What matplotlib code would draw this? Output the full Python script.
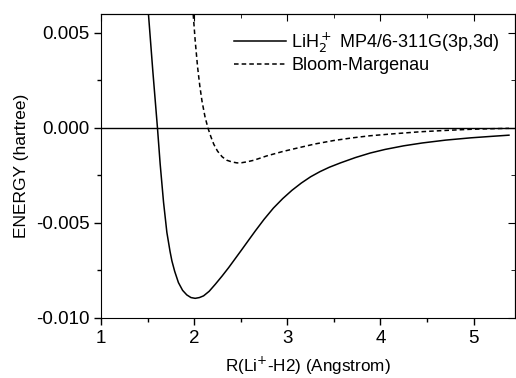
import matplotlib
matplotlib.use('Agg')
import matplotlib.pyplot as plt
from matplotlib.ticker import MultipleLocator

plt.rcParams['font.family'] = ['Liberation Sans', 'DejaVu Sans']

# LiH2+ MP4/6-311G(3p,3d)
r_mp4 = [1.45, 1.505, 1.555, 1.605, 1.634, 1.670, 1.706, 1.74, 1.76, 1.79, 1.83, 1.875,
         1.92, 1.965, 2.01, 2.055, 2.10, 2.16, 2.226, 2.30, 2.37, 2.44, 2.513, 2.585,
         2.656, 2.75, 2.85, 2.95, 3.05, 3.15, 3.25, 3.35, 3.45, 3.57, 3.73, 3.89, 4.05,
         4.25, 4.45, 4.70, 4.97, 5.20, 5.38]
e_mp4 = [0.0115, 0.0062, 0.0030, 0.0, -0.0019, -0.0039, -0.0055, -0.0065, -0.0070,
         -0.00755, -0.00814, -0.00855, -0.00879, -0.00893, -0.00897, -0.00893, -0.00884,
         -0.00860, -0.00823, -0.00779, -0.00735, -0.00688, -0.00639, -0.0059, -0.00542,
         -0.00481, -0.00422, -0.00372, -0.00328, -0.00290, -0.00257, -0.00230, -0.00207,
         -0.00184, -0.00156, -0.00132, -0.00113, -0.00094, -0.00079, -0.00064, -0.00052,
         -0.00044, -0.00038]

# Bloom-Margenau
r_bm = [1.97, 1.99, 2.01, 2.036, 2.06, 2.083, 2.115, 2.147, 2.18, 2.21, 2.25, 2.30, 2.35,
        2.405, 2.46, 2.51, 2.57, 2.64, 2.78, 2.95, 3.14, 3.30, 3.50, 3.70, 3.89, 4.16,
        4.43, 4.70, 4.97, 5.20, 5.38]
e_bm = [0.0075, 0.0059, 0.0046, 0.0032, 0.0022, 0.00142, 0.0006, 0.0, -0.00048, -0.00086,
        -0.00122, -0.00152, -0.0017, -0.00179, -0.00184, -0.00183, -0.00178, -0.0017,
        -0.00147, -0.00124, -0.00102, -0.00084, -0.00066, -0.00052, -0.00041, -0.0003,
        -0.0002, -0.00013, -0.00007, -0.00004, -0.00002]

fig = plt.figure(figsize=(5.16, 3.78), dpi=100)
ax = fig.add_axes([0.196, 0.159, 0.803, 0.804])

ax.axhline(0, color='black', lw=1.0)
ax.plot(r_mp4, e_mp4, color='black', lw=1.1, label=r'LiH$_2^+$ MP4/6-311G(3p,3d)')
ax.plot(r_bm, e_bm, color='black', lw=1.1, ls=(0, (3, 2)), label='Bloom-Margenau')

ax.set_xlim(1, 5.45)
ax.set_ylim(-0.010, 0.006)
ax.xaxis.set_major_locator(MultipleLocator(1))
ax.xaxis.set_minor_locator(MultipleLocator(0.5))
ax.yaxis.set_major_locator(MultipleLocator(0.005))
ax.yaxis.set_minor_locator(MultipleLocator(0.0025))
ax.yaxis.set_major_formatter(plt.FuncFormatter(lambda v, p: '%.3f' % v))

ax.tick_params(which='major', direction='out', length=5, width=1, labelsize=13.5)
ax.tick_params(which='minor', direction='out', length=3, width=1)
ax.tick_params(which='both', top=False, right=False)
sec_x = ax.secondary_xaxis('top')
sec_x.xaxis.set_major_locator(MultipleLocator(1))
sec_x.xaxis.set_minor_locator(MultipleLocator(0.5))
sec_x.tick_params(which='major', direction='in', length=5, labeltop=False)
sec_x.tick_params(which='minor', direction='in', length=3)
sec_y = ax.secondary_yaxis('right')
sec_y.yaxis.set_major_locator(MultipleLocator(0.005))
sec_y.yaxis.set_minor_locator(MultipleLocator(0.0025))
sec_y.tick_params(which='major', direction='in', length=5, labelright=False)
sec_y.tick_params(which='minor', direction='in', length=3)

ax.set_xlabel(r'R(Li$^{+}$-H2) (Angstrom)', fontsize=12.3, labelpad=6)
ax.set_ylabel('ENERGY (hartree)', fontsize=12.5, labelpad=5)

ax.legend(loc='upper right', frameon=False, fontsize=13, handlelength=2.9,
          handletextpad=0.28, labelspacing=0.15, borderaxespad=0,
          bbox_to_anchor=(0.978, 0.97))

fig.savefig('out.png', dpi=100)
